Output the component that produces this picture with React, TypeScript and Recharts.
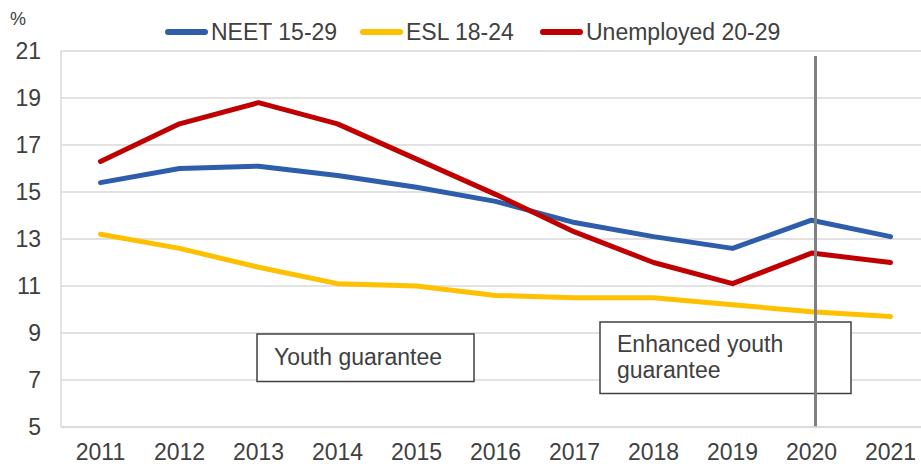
import React from "react";
import {
  LineChart,
  Line,
  XAxis,
  YAxis,
  CartesianGrid,
  Legend,
  ReferenceLine,
  Customized,
} from "recharts";

const YEARS = ["2011", "2012", "2013", "2014", "2015", "2016", "2017", "2018", "2019", "2020", "2021"];
const NEET = [15.4, 16.0, 16.1, 15.7, 15.2, 14.6, 13.7, 13.1, 12.6, 13.8, 13.1];
const ESL = [13.2, 12.6, 11.8, 11.1, 11.0, 10.6, 10.5, 10.5, 10.2, 9.9, 9.7];
const UNEMPLOYED = [16.3, 17.9, 18.8, 17.9, 16.4, 14.9, 13.3, 12.0, 11.1, 12.4, 12.0];
const Y_TICKS = [5, 7, 9, 11, 13, 15, 17, 19, 21];

const SERIES = [
  { key: "neet", name: "NEET 15-29", color: "#2E5DAB", values: NEET, left: 165 },
  { key: "esl", name: "ESL 18-24", color: "#FFC000", values: ESL, left: 360 },
  { key: "unemp", name: "Unemployed 20-29", color: "#C00000", values: UNEMPLOYED, left: 540 },
];

const data = YEARS.map((year, i) => ({
  year,
  neet: NEET[i],
  esl: ESL[i],
  unemp: UNEMPLOYED[i],
}));

const FONT = "'Liberation Sans', Arial, sans-serif";
const TEXT = "#404040";
const FS = 23;

const LegendRow = () => (
  <div style={{ position: "relative", height: 40, fontFamily: FONT }}>
    {SERIES.map((s) => (
      <div
        key={s.key}
        style={{ position: "absolute", left: s.left, top: 8, display: "flex", alignItems: "center", whiteSpace: "nowrap" }}
      >
        <span
          style={{ display: "inline-block", width: 43, height: 6, borderRadius: 3, background: s.color, marginRight: 3 }}
        />
        <span style={{ fontSize: FS, color: TEXT, lineHeight: "26px" }}>{s.name}</span>
      </div>
    ))}
  </div>
);

// annotation boxes, drawn on top of the lines
const Boxes = () => (
  <g fontFamily={FONT} fontSize={FS} fill={TEXT}>
    <rect x={257} y={334} width={217} height={47.5} fill="#fff" stroke="#404040" strokeWidth={1.5} />
    <text x={274} y={365}>Youth guarantee</text>
    <rect x={600} y={322} width={251} height={71.5} fill="#fff" stroke="#404040" strokeWidth={1.5} />
    <text x={617} y={352}>Enhanced youth</text>
    <text x={617} y={378}>guarantee</text>
  </g>
);

// the 2020 marker starts a little below the top of the plot
const DividerLine = (props: any) => {
  const top = Math.min(props.y1, props.y2);
  const bottom = Math.max(props.y1, props.y2);
  return <line x1={props.x1 + 4} y1={top + 5} x2={props.x2 + 4} y2={bottom} stroke="#808080" strokeWidth={3} />;
};

export default function App() {
  return (
    <div
      style={{
        position: "absolute",
        left: 0,
        top: 0,
        width: 921,
        height: 464,
        overflow: "hidden",
        background: "#fff",
        fontFamily: FONT,
      }}
    >
      <div style={{ position: "absolute", left: 10, top: 9, fontSize: 18, color: TEXT }}>%</div>
      <LineChart width={930} height={464} data={data} margin={{ top: 11, right: 0, left: 0, bottom: 0 }}>
        <CartesianGrid vertical={false} stroke="#d9d9d9" strokeWidth={1.5} />
        <XAxis
          dataKey="year"
          padding={{ left: 39.5, right: 39.5 }}
          height={37}
          stroke="#d9d9d9"
          strokeWidth={1.5}
          tickLine={false}
          tickMargin={11}
          tick={{ fontSize: FS, fill: TEXT, fontFamily: FONT }}
        />
        <YAxis
          domain={[5, 21]}
          ticks={Y_TICKS}
          width={61}
          stroke="#d9d9d9"
          strokeWidth={1.5}
          tickLine={false}
          tickMargin={14}
          tick={{ fontSize: FS, fill: TEXT, fontFamily: FONT }}
        />
        <Legend verticalAlign="top" height={40} content={() => <LegendRow />} />
        {SERIES.map((s) => (
          <Line
            key={s.key}
            type="linear"
            dataKey={s.key}
            name={s.name}
            stroke={s.color}
            strokeWidth={5}
            strokeLinecap="round"
            strokeLinejoin="round"
            dot={false}
            activeDot={false}
            isAnimationActive={false}
          />
        ))}
        <Customized component={Boxes} />
        <ReferenceLine x="2020" shape={DividerLine} />
      </LineChart>
    </div>
  );
}
